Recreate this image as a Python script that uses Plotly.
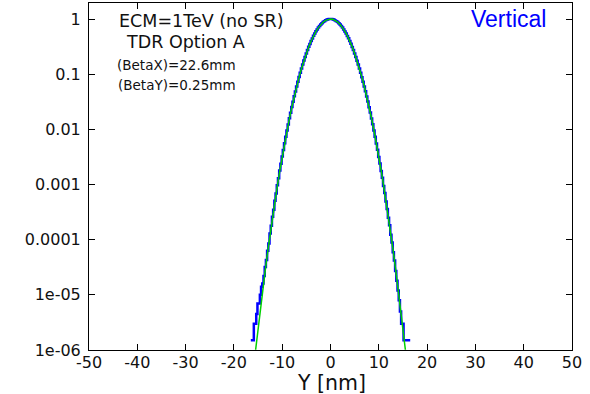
import plotly.graph_objects as go

# Histogram (blue): normalised counts in 0.25 nm bins, centres from -16.5 to 16.5 nm
hist_y = [
    1.5e-6, 1.5e-6, 1.5e-6, 3.0e-6,
    3.0e-6, 4.5e-6, 7.0e-6, 7.0e-6,
    1.0e-5, 1.4e-5, 1.6e-5, 2.2e-5,
    3.2e-5, 4.3e-5, 6.3e-5, 8.5e-5,
    1.3e-4, 1.78e-4, 2.6e-4, 3.5e-4,
    5.1e-4, 6.9e-4, 9.7e-4, 1.30e-3,
    1.79e-3, 2.37e-3, 3.21e-3, 4.22e-3,
    5.62e-3, 7.30e-3, 9.55e-3, 0.01225,
    0.01580, 0.0199, 0.0254, 0.0316,
    0.0396, 0.0487, 0.0600, 0.0728,
    0.0884, 0.1058, 0.1266, 0.1493,
    0.1760, 0.2048, 0.2380, 0.2730,
    0.3126, 0.3538, 0.3992, 0.4454,
    0.4950, 0.5446, 0.5966, 0.6471,
    0.6986, 0.7470, 0.7950, 0.8381,
    0.8790, 0.9137, 0.9445, 0.9679,
    0.9859, 0.9962, 1.0, 0.9966,
    0.9855, 0.9684, 0.9440, 0.9144,
    0.8784, 0.8388, 0.7942, 0.7476,
    0.6978, 0.6479, 0.5958, 0.5454,
    0.4942, 0.4460, 0.3985, 0.3544,
    0.3120, 0.2737, 0.2374, 0.2054,
    0.1756, 0.1497, 0.1262, 0.1062,
    0.0880, 0.0731, 0.0596, 0.0489,
    0.0394, 0.0318, 0.0252, 0.0201,
    0.01568, 0.01233, 9.48e-3, 7.36e-3,
    5.55e-3, 4.27e-3, 3.16e-3, 2.41e-3,
    1.75e-3, 1.32e-3, 9.4e-4, 7.0e-4,
    4.9e-4, 3.6e-4, 2.5e-4, 1.82e-4,
    1.23e-4, 8.9e-5, 5.9e-5, 4.2e-5,
    2.7e-5, 1.8e-5, 1.2e-5, 8.0e-6,
    5.0e-6, 3.0e-6, 3.0e-6, 1.5e-6,
    1.5e-6, 1.5e-6, 1.5e-6, 1.5e-6,
    1.5e-6,
]
hist_x = [-16.5 + 0.25 * i for i in range(len(hist_y))]

# Gaussian fit (green)
fit_x = [-15.5, -15, -14.5, -14, -13.5, -13, -12.5, -12, -11.5, -11, -10.5, -10, -9.5, -9, -8.5, -8,
         -7.5, -7, -6.5, -6, -5.5, -5, -4.5, -4, -3.5, -3, -2.5, -2, -1.5, -1, -0.5, 0,
         0.5, 1, 1.5, 2, 2.5, 3, 3.5, 4, 4.5, 5, 5.5, 6, 6.5, 7, 7.5, 8, 8.5, 9, 9.5, 10,
         10.5, 11, 11.5, 12, 12.5, 13, 13.5, 14, 14.5, 15, 15.5]
fit_y = [1.01e-6, 2.42e-6, 5.66e-6, 1.28e-5, 2.83e-5, 6.05e-5, 1.26e-4, 2.54e-4, 5.0e-4, 9.54e-4, 1.77e-3, 3.19e-3,
         5.59e-3, 9.52e-3, 0.01574, 0.0253, 0.0394, 0.0598, 0.0882, 0.1263, 0.1758, 0.2377, 0.3123, 0.3987, 0.4946,
         0.5962, 0.6982, 0.7946, 0.8787, 0.9442, 0.9857, 1.0,
         0.9857, 0.9442, 0.8787, 0.7946, 0.6982, 0.5962, 0.4946, 0.3987, 0.3123, 0.2377, 0.1758, 0.1263, 0.0882,
         0.0598, 0.0394, 0.0253, 0.01574, 9.52e-3, 5.59e-3, 3.19e-3, 1.77e-3, 9.54e-4, 5.0e-4, 2.54e-4, 1.26e-4,
         6.05e-5, 2.83e-5, 1.28e-5, 5.66e-6, 2.42e-6, 1.01e-6]

x_ticks = [-50, -40, -30, -20, -10, 0, 10, 20, 30, 40, 50]
x_ticktext = ["-50", "-40", "-30", "-20", "-10", "0", "10", "20", "30", "40", "50"]
y_ticks = [1, 0.1, 0.01, 0.001, 0.0001, 1e-5, 1e-6]
y_ticktext = ["1", "0.1", "0.01", "0.001", "0.0001", "1e-05", "1e-06"]

FONT = "DejaVu Sans, sans-serif"
FONT2 = "Liberation Sans, Arial, sans-serif"

L, R, T, B = 89, 572, 3, 350

fig = go.Figure()
fig.add_trace(go.Scatter(x=hist_x, y=hist_y, mode="lines", line=dict(color="#0000ff", width=2.5, shape="hvh"),
                         showlegend=False))
fig.add_trace(go.Scatter(x=fit_x, y=fit_y, mode="lines", line=dict(color="#00d000", width=1.5),
                         showlegend=False))

axis_common = dict(showline=True, linecolor="black", linewidth=1, mirror="ticks", ticks="inside",
                   ticklen=6, tickcolor="black", showgrid=False, zeroline=False,
                   tickfont=dict(family=FONT, size=16, color="#111111"))

fig.update_xaxes(range=[-50, 50], tickvals=x_ticks, ticktext=x_ticktext, ticklabelstandoff=-2, **axis_common)
fig.update_yaxes(type="log", range=[-6, 0.29], tickvals=y_ticks, ticktext=y_ticktext, ticklabelstandoff=4,
                 **axis_common)

ann = [
    dict(text="ECM=1TeV (no SR)", x=201, y=21, size=17.5, color="#111111", family=FONT),
    dict(text="TDR Option A", x=185, y=41.5, size=17.5, color="#111111", family=FONT),
    dict(text="(BetaX)=22.6mm", x=176.5, y=65, size=13.5, color="#111111", family=FONT),
    dict(text="(BetaY)=0.25mm", x=176.5, y=85, size=13.5, color="#111111", family=FONT),
    dict(text="Vertical", x=508.5, y=19, size=23, color="#0000ff", family=FONT2),
    dict(text="Y [nm]", x=331, y=382.5, size=20.5, color="#111111", family=FONT),
]
for a in ann:
    fig.add_annotation(text=a["text"], xref="paper", yref="paper",
                       x=(a["x"] - L) / (R - L), y=1 - (a["y"] - T) / (B - T),
                       xanchor="center", yanchor="middle", showarrow=False,
                       font=dict(family=a["family"], size=a["size"], color=a["color"]))

fig.update_layout(width=590, height=394, margin=dict(l=L, r=590 - R, t=T, b=394 - B),
                  paper_bgcolor="white", plot_bgcolor="white")

fig.write_html("out.html")
